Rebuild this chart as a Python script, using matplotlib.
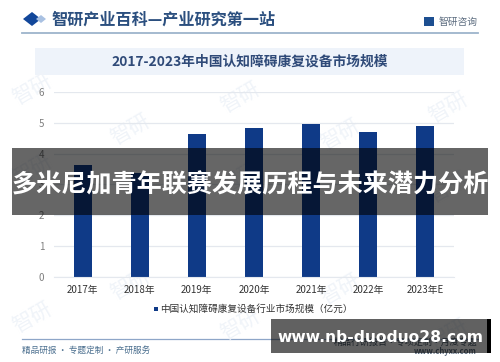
import matplotlib
matplotlib.use("Agg")
import matplotlib.pyplot as plt
from matplotlib.patches import Rectangle, Polygon

plt.rcParams['font.family'] = ['Noto Sans CJK SC', 'DejaVu Sans']

years = ["2017年", "2018年", "2019年", "2020年", "2021年", "2022年", "2023年E"]
market_size = [3.63, 3.38, 4.62, 4.83, 4.97, 4.69, 4.89]
y_ticks = [0, 1, 2, 3, 4, 5, 6]
legend_label = "中国认知障碍康复设备行业市场规模（亿元）"
chart_title = "2017-2023年中国认知障碍康复设备市场规模"
header = "智研产业百科—产业研究第一站"
brand = "智研咨询"
footer_left = "精品研报 · 专题定制 · 产研服务"
footer_right = "精品行研报告·专项定制·月度专题"
footer_url = "www.chyxx.com"
overlay_title = "多米尼加青年联赛发展历程与未来潜力分析"
overlay_url = "www.nb-duoduo28.com"
wm_spots = [(32, 90), (240, 98), (448, 108), (32, 170), (240, 178), (448, 188),
            (32, 318), (240, 325), (448, 335), (130, 130), (340, 135), (130, 285), (340, 290)]

W, H = 500, 362
fig = plt.figure(figsize=(W / 100, H / 100), dpi=100, facecolor="white")

# page furniture, pixel coords
bg = fig.add_axes([0, 0, 1, 1], zorder=0)
bg.set_xlim(0, W)
bg.set_ylim(H, 0)
bg.axis("off")

for x, y in wm_spots:
    bg.text(x, y, "智研", fontsize=15, color="#f0f4f9", rotation=30, ha="center", va="center")
bg.add_patch(Rectangle((35, 48), 429, 27, color="#eef3fa", lw=0))
bg.add_patch(Polygon([(23, 19), (32, 12), (41, 19), (32, 26)], color="#12479a", lw=0))
bg.add_patch(Polygon([(36, 19), (41, 15), (46, 19), (41, 23)], color="#a9c1e2", lw=0))
bg.text(51, 20, header, fontsize=11.6, color="#2b4f7f", va="center", fontweight="bold")
bg.plot([22, 478], [33, 33], color="#9db4cc", lw=1.3)
bg.add_patch(Rectangle((424, 17), 10, 9, color="#1d4f91", lw=0))
bg.text(439, 22, brand, fontsize=7, color="#5d6d80", va="center")
bg.text(250, 62, chart_title, fontsize=9.9, color="#2f4a78", ha="center", va="center", fontweight="bold")
bg.add_patch(Rectangle((153.5, 307), 4, 4, color="#0f3a87", lw=0))
bg.text(160, 309, legend_label, fontsize=6.9, color="#333333", va="center")
bg.plot([22, 478], [338.5, 338.5], color="#8ea6c8", lw=0.9)
bg.text(22, 350, footer_left, fontsize=6.2, color="#4b6f8f", va="center")
bg.text(477, 342, footer_right, fontsize=6.5, color="#4b5b6b", ha="right", va="center")
bg.text(477, 352, footer_url, fontsize=5.5, color="#5d6d80", ha="right", va="center", fontweight="bold")

# chart itself
ax = fig.add_axes([54 / W, 1 - 276.7 / H, 400 / W, 184.7 / H], zorder=1)
ax.patch.set_alpha(0)
ax.bar(years, market_size, width=0.315, color="#0f3a87", zorder=2)
ax.set_xlim(-0.5, 6.5)
ax.set_ylim(0, 6)
ax.set_yticks(y_ticks)
ax.grid(axis="y", color="#e4e8ee", lw=0.9, zorder=1)
ax.tick_params(length=0)
ax.tick_params(axis="x", labelsize=7, labelcolor="#333333", pad=6)
ax.tick_params(axis="y", labelsize=7, labelcolor="#7f7f7f", pad=7)
for s in ax.spines.values():
    s.set_visible(False)
ax.spines["bottom"].set_visible(True)
ax.spines["bottom"].set_color("#e4e8ee")

# banners pasted over the chart
top = fig.add_axes([0, 0, 1, 1], zorder=2)
top.patch.set_alpha(0)
top.set_xlim(0, W)
top.set_ylim(H, 0)
top.axis("off")
top.add_patch(Rectangle((12, 148), 476, 67, color="black", alpha=0.6, lw=0))
top.add_patch(Rectangle((487.5, 148), 0.8, 67, color="black", lw=0))
top.text(250, 185, overlay_title, fontsize=18.1, color="white", ha="center", va="center", fontweight="bold")
top.add_patch(Rectangle((271, 319), 216, 34, color="black", alpha=0.62, lw=0))
top.add_patch(Rectangle((487, 319), 4, 34, color="black", lw=0))
top.text(380, 337, overlay_url, fontsize=11.2, color="white", ha="center", va="center",
         fontweight="bold", family="DejaVu Sans")

fig.savefig("out.png", dpi=100)
